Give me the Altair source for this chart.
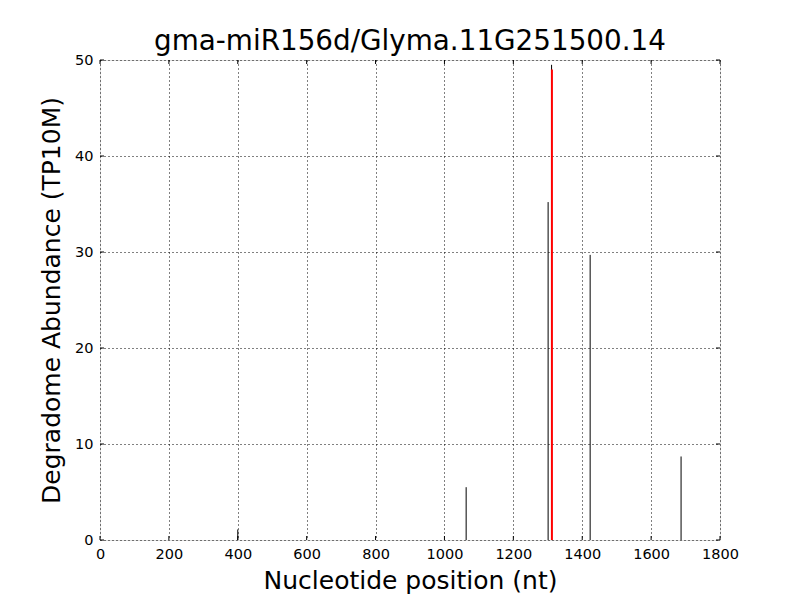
import altair as alt
import pandas as pd

positions = [400, 1063, 1301, 1311, 1423, 1687]
abundance = [1.1, 5.5, 35.2, 49.5, 29.7, 8.7]
red_pos = [1312]
red_val = [49.0]
x_ticks = [0, 200, 400, 600, 800, 1000, 1200, 1400, 1600, 1800]
y_ticks = [0, 10, 20, 30, 40, 50]

df = pd.DataFrame({"pos": positions, "val": abundance})
dfr = pd.DataFrame({"pos": red_pos, "val": red_val})
dfx = pd.DataFrame({"t": x_ticks})
dfy = pd.DataFrame({"t": y_ticks})

xs = alt.Scale(domain=[0, 1800], nice=False, zero=False)
ys = alt.Scale(domain=[0, 50], nice=False)

FONT = "DejaVu Sans"

base = alt.Chart(df).mark_rule(color="black", strokeWidth=1).encode(
    x=alt.X("pos:Q", scale=xs, axis=alt.Axis(
        values=x_ticks, title="Nucleotide position (nt)", format="d",
        grid=True, gridDash=[1, 3], gridColor="black", gridOpacity=1,
        ticks=False, labelPadding=7, labelFontSize=14.5, titleFontSize=25,
        labelFlush=False, labelOverlap=False,
        titleFontWeight="normal", titlePadding=8, domain=False, labelFont=FONT, titleFont=FONT,
        labelColor="black", titleColor="black")),
    y=alt.Y("val:Q", scale=ys, axis=alt.Axis(
        values=y_ticks, title="Degradome Abundance (TP10M)",
        grid=True, gridDash=[1, 3], gridColor="black", gridOpacity=1,
        ticks=False, labelPadding=7, labelFontSize=14.5, titleFontSize=25,
        labelFlush=False, labelOverlap=False,
        titleFontWeight="normal", titlePadding=10, domain=False, labelFont=FONT, titleFont=FONT,
        labelColor="black", titleColor="black")),
    y2=alt.datum(0),
)

red = alt.Chart(dfr).mark_rule(color="red", strokeWidth=2).encode(
    x=alt.X("pos:Q", scale=xs), y=alt.Y("val:Q", scale=ys), y2=alt.datum(0)
)

xt_bottom = alt.Chart(dfx).mark_rule(color="black").encode(
    x=alt.X("t:Q", scale=xs), y=alt.value(480), y2=alt.value(476))
xt_top = alt.Chart(dfx).mark_rule(color="black").encode(
    x=alt.X("t:Q", scale=xs), y=alt.value(0), y2=alt.value(4))
yt_left = alt.Chart(dfy).mark_rule(color="black").encode(
    y=alt.Y("t:Q", scale=ys), x=alt.value(0), x2=alt.value(4))
yt_right = alt.Chart(dfy).mark_rule(color="black").encode(
    y=alt.Y("t:Q", scale=ys), x=alt.value(620), x2=alt.value(616))

chart = alt.layer(base, red, xt_bottom, xt_top, yt_left, yt_right).properties(
    width=620, height=480,
    title=alt.TitleParams("gma-miR156d/Glyma.11G251500.14", fontSize=27.8,
                          font=FONT, fontWeight="normal", color="black", offset=-4),
    autosize=alt.AutoSizeParams(type="none"),
    padding={"left": 92, "top": 52, "right": 60, "bottom": 56},
).configure_view(stroke="black", strokeWidth=1).configure(background="white")

chart.save("out.html", embed_options={"renderer": "svg", "actions": False})
